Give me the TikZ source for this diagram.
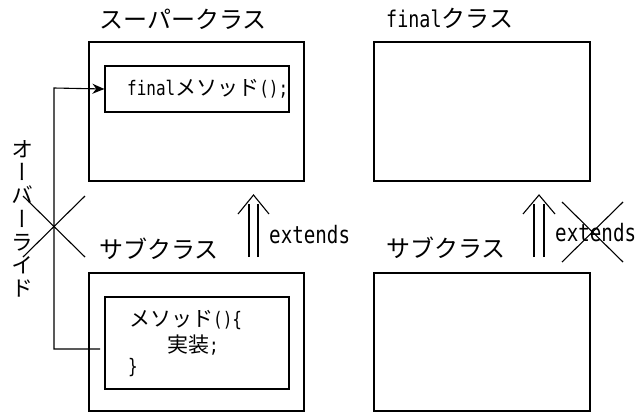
\documentclass[tikz,border=0pt]{standalone}
\usepackage{fontspec}
\setmainfont{Noto Sans CJK JP}
\newfontfamily\lat[FakeStretch=0.8]{DejaVu Sans Mono}
\newfontfamily\vjp[RawFeature={+vert}]{Noto Sans CJK JP}
\usetikzlibrary{arrows.meta}
\tikzset{
  box/.style={draw, line width=1.2pt, inner sep=0pt},
  title/.style={font=\fontsize{24}{26}\selectfont, inner sep=0pt},
  code/.style={font=\fontsize{21}{24}\selectfont, inner sep=0pt},
  thin/.style={line width=1.1pt},
}
\newcommand{\lt}[1]{{\lat\fontsize{20}{24}\selectfont #1}}
\begin{document}
\begin{tikzpicture}[x=1pt,y=-1pt]
\useasboundingbox (0,0) rectangle (644,413);
% boxes
\node[box, minimum width=215pt, minimum height=139pt] (superout) at (196.5,111.5) {};
\node[box, minimum width=184pt, minimum height=46pt] (superin) at (197,89) {};
\node[box, minimum width=215pt, minimum height=138pt] (subout) at (196.5,342) {};
\node[box, minimum width=184pt, minimum height=92pt] (subin) at (197,343) {};
\node[box, minimum width=216pt, minimum height=139pt] (finalbox) at (482,111.5) {};
\node[box, minimum width=216pt, minimum height=138pt] (subbox2) at (482,342) {};
% titles
\node[title] (t1) at (183,19) {スーパークラス};
\node[title] (t2) at (159,249) {サブクラス};
\node[title, anchor=west] (t3) at (386,18) {{\lat\fontsize{23}{26}\selectfont final}クラス};
\node[title, anchor=west] (t4) at (386,248) {サブクラス};
% code texts
\node[code, anchor=west] (c1) at (127,89) {\lt{final}メソッド\lt{();}};
\node[code, anchor=west] (c2) at (129,320) {メソッド\lt{()\{}};
\node[code, anchor=west] (c3) at (167,345) {実装\lt{;}};
\node[code, anchor=west] (c4) at (128,368) {\lt{\}}};
% override connector
\coordinate (ostart) at (100,349);
\draw[thin, -{Stealth[length=12pt,width=10pt]}] (ostart) -- (54,349) -- (54,88) -- (superin.west);
\draw[thin] (23,196) -- (85,257);
\draw[thin] (85,196) -- (23,257);
\node[font=\vjp\fontsize{22}{23.2}\selectfont, align=center, inner sep=0pt] (ovr) at (23,219) {オ\\ー\\バ\\ー\\ラ\\イ\\ド};
% extends arrows
\draw[thin] (249,257) -- (249,204);
\draw[thin] (258,257) -- (258,204);
\draw[thin] (238,214) -- (253.5,195) -- (269,214);
\node[font=\lat\fontsize{24}{26}\selectfont, anchor=west, inner sep=0pt] (ext1) at (269,235) {extends};
\draw[thin] (534,257) -- (534,204);
\draw[thin] (544,257) -- (544,204);
\draw[thin] (523,214) -- (539,195) -- (555,214);
\node[font=\lat\fontsize{24}{26}\selectfont, anchor=west, inner sep=0pt] (ext2) at (555,233) {extends};
\draw[thin] (562,202) -- (623,262);
\draw[thin] (623,202) -- (562,262);
\end{tikzpicture}
\end{document}
